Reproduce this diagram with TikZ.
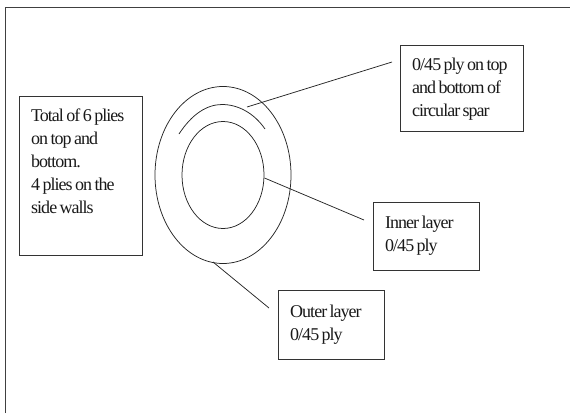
\documentclass[tikz,border=0pt]{standalone}
\usepackage{fontspec}
\setmainfont{Liberation Serif}[LetterSpace=-5.5,WordSpace=0.7]
\tikzset{
  x=1pt,y=-1pt,
  shape line/.style={draw=black!85,line width=0.75pt},
  boxnode/.style={rectangle,draw=black!80,line width=0.9pt,inner sep=0pt,anchor=north west},
  txt/.style={anchor=base west,inner sep=0pt,align=left,font=\fontsize{18}{23}\selectfont,text=black!90}
}
\begin{document}
\begin{tikzpicture}
\useasboundingbox (0,0) rectangle (570,413);
\coordinate (fa) at (5.5,413); \coordinate (fb) at (5.5,7); \coordinate (fc) at (570,7);
\draw[draw=black!75,line width=0.9pt] (fa) -- (fb) -- (fc);
\node[boxnode,minimum width=123pt,minimum height=159pt] (total) at (19,96) {};
\node[txt] (totalt) at (31,213) {Total of 6 plies\\on top and\\bottom.\\4 plies on the\\side walls};
\node[boxnode,minimum width=123pt,minimum height=86pt] (ply) at (400,45) {};
\node[txt] (plyt) at (412,116) {0/45 ply on top\\and bottom of\\circular spar};
\node[boxnode,minimum width=106pt,minimum height=68pt] (inner) at (373,202) {};
\node[txt] (innert) at (385,251) {Inner layer\\0/45 ply};
\node[boxnode,minimum width=106pt,minimum height=69pt] (outer) at (278,290) {};
\node[txt] (outert) at (290,340) {Outer layer\\0/45 ply};
\coordinate (c) at (223,175);
\draw[shape line] (c) ellipse [x radius=68,y radius=88.5];
\draw[shape line] (c) ellipse [x radius=41,y radius=53.5];
\coordinate (arcstart) at (179,134);
\draw[shape line] (arcstart) .. controls (192,114) and (207,104.5) .. (222,104.5) .. controls (238,104.5) and (254,113) .. (265,129);
\coordinate (a1) at (247,107); \coordinate (a2) at (392,62);
\coordinate (b1) at (264.5,178); \coordinate (b2) at (364,220);
\coordinate (d1) at (213,262); \coordinate (d2) at (269,308);
\draw[shape line] (a1) -- (a2);
\draw[shape line] (b1) -- (b2);
\draw[shape line] (d1) -- (d2);
\end{tikzpicture}
\end{document}
